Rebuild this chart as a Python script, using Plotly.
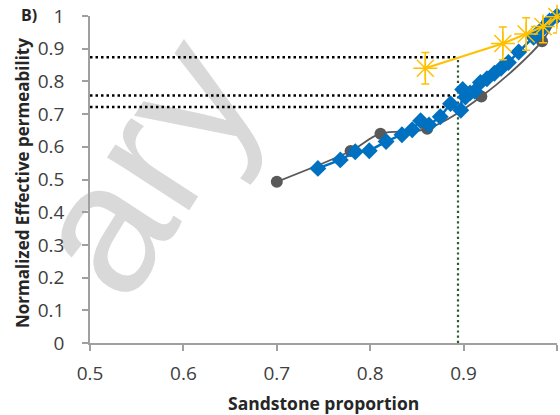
import plotly.graph_objects as go

# Gray series (circles, smoothed line)
gray_x = [0.700, 0.779, 0.811, 0.861, 0.919, 0.984, 1.000]
gray_y = [0.493, 0.587, 0.640, 0.655, 0.754, 0.923, 1.000]

# Blue series (diamonds)
blue_x = [0.744, 0.768, 0.784, 0.799, 0.817, 0.834, 0.845, 0.854, 0.863, 0.875,
          0.886, 0.897, 0.899, 0.902, 0.907, 0.912, 0.918, 0.925, 0.933, 0.940,
          0.948, 0.959, 0.975, 0.984, 0.992, 1.000]
blue_y = [0.534, 0.560, 0.585, 0.588, 0.616, 0.637, 0.652, 0.680, 0.667, 0.692,
          0.732, 0.712, 0.775, 0.752, 0.765, 0.770, 0.797, 0.808, 0.825, 0.840,
          0.858, 0.890, 0.935, 0.960, 0.985, 1.000]

# Yellow series (asterisks with error bars)
yellow_x = [0.859, 0.942, 0.967, 0.985, 1.000]
yellow_y = [0.840, 0.916, 0.945, 0.968, 0.998]
yellow_err = [0.048, 0.050, 0.050, 0.050, 0.050]

# Reading guides
guide_levels = [0.874, 0.757, 0.722]
guide_x = 0.894

x_ticks = [0.5, 0.6, 0.7, 0.8, 0.9, 1.0]
x_tick_text = ["0.5", "0.6", "0.7", "0.8", "0.9", "1"]
y_ticks = [0.0, 0.1, 0.2, 0.3, 0.4, 0.5, 0.6, 0.7, 0.8, 0.9, 1.0]
y_tick_text = ["0", "0.1", "0.2", "0.3", "0.4", "0.5", "0.6", "0.7", "0.8", "0.9", "1"]

FONT = "Open Sans"
AXIS_COLOR = "#a0a0a0"
TEXT_COLOR = "#404040"

fig = go.Figure()

# dotted guide lines
for lvl in guide_levels:
    fig.add_trace(go.Scatter(
        x=[0.5, guide_x], y=[lvl, lvl], mode="lines",
        line=dict(color="#000000", width=2.5, dash="2.5px,3px"),
        hoverinfo="skip", showlegend=False, cliponaxis=False))
fig.add_trace(go.Scatter(
    x=[guide_x, guide_x], y=[0, max(guide_levels)], mode="lines",
    line=dict(color="#2f5a2f", width=2.2, dash="2.2px,3px"),
    hoverinfo="skip", showlegend=False, cliponaxis=False))

fig.add_trace(go.Scatter(
    x=gray_x, y=gray_y, mode="lines+markers",
    line=dict(color="#595959", width=1.8, shape="spline", smoothing=1.0),
    marker=dict(symbol="circle", size=12, color="#595959"),
    showlegend=False, cliponaxis=False))

fig.add_trace(go.Scatter(
    x=blue_x, y=blue_y, mode="lines+markers",
    line=dict(color="#0070C0", width=2.5),
    marker=dict(symbol="diamond", size=13, color="#0070C0"),
    showlegend=False, cliponaxis=False))

fig.add_trace(go.Scatter(
    x=yellow_x, y=yellow_y, mode="lines+markers",
    line=dict(color="#FFC000", width=2),
    marker=dict(symbol="asterisk-open", size=20, color="#FFC000",
                line=dict(color="#FFC000", width=1.5)),
    error_y=dict(type="data", array=yellow_err, visible=True,
                 color="#FFC000", thickness=1.5, width=4),
    showlegend=False, cliponaxis=False))

fig.update_xaxes(
    range=[0.5, 1.0], tickvals=x_ticks, ticktext=x_tick_text,
    showgrid=False, zeroline=False, showline=True,
    linecolor=AXIS_COLOR, linewidth=1.5,
    ticks="outside", ticklen=6, tickwidth=1.5, tickcolor=AXIS_COLOR,
    ticklabelstandoff=6,
    tickfont=dict(family=FONT, size=19, color=TEXT_COLOR))
fig.update_yaxes(
    range=[0.0, 1.0], tickvals=y_ticks, ticktext=y_tick_text,
    showgrid=False, zeroline=False, showline=True,
    linecolor=AXIS_COLOR, linewidth=1.5,
    ticks="outside", ticklen=6, tickwidth=1.5, tickcolor=AXIS_COLOR,
    ticklabelstandoff=14,
    tickfont=dict(family=FONT, size=19, color=TEXT_COLOR))

# faint watermark lettering behind the plot
fig.add_shape(
    type="rect", xref="paper", yref="paper",
    x0=-0.09, x1=0.25, y0=0.375, y1=0.775, layer="below",
    line=dict(width=0), fillcolor="rgba(0,0,0,0)",
    label=dict(text="ary", textangle=-57, textposition="middle center",
               font=dict(family="Liberation Sans", size=185, color="#d9d9d9")))

fig.add_annotation(
    text="<b>Sandstone proportion</b>", xref="paper", yref="paper",
    x=0.5, y=-0.185, xanchor="center", yanchor="middle", showarrow=False,
    font=dict(family=FONT, size=17.5, color="#262626"))
fig.add_annotation(
    text="<b>Normalized Effective permeability</b>", xref="paper", yref="paper",
    x=-0.145, y=0.49, xanchor="center", yanchor="middle", showarrow=False,
    textangle=-90, font=dict(family=FONT, size=17, color="#262626"))
fig.add_annotation(
    text="<b>B)</b>", xref="paper", yref="paper",
    x=-0.131, y=1.003, xanchor="center", yanchor="middle", showarrow=False,
    font=dict(family=FONT, size=16, color="#262626"))

fig.update_layout(
    width=560, height=415,
    margin=dict(l=90, r=3, t=16, b=72),
    paper_bgcolor="white", plot_bgcolor="white",
    font=dict(family=FONT),
)

fig.write_html("out.html")
